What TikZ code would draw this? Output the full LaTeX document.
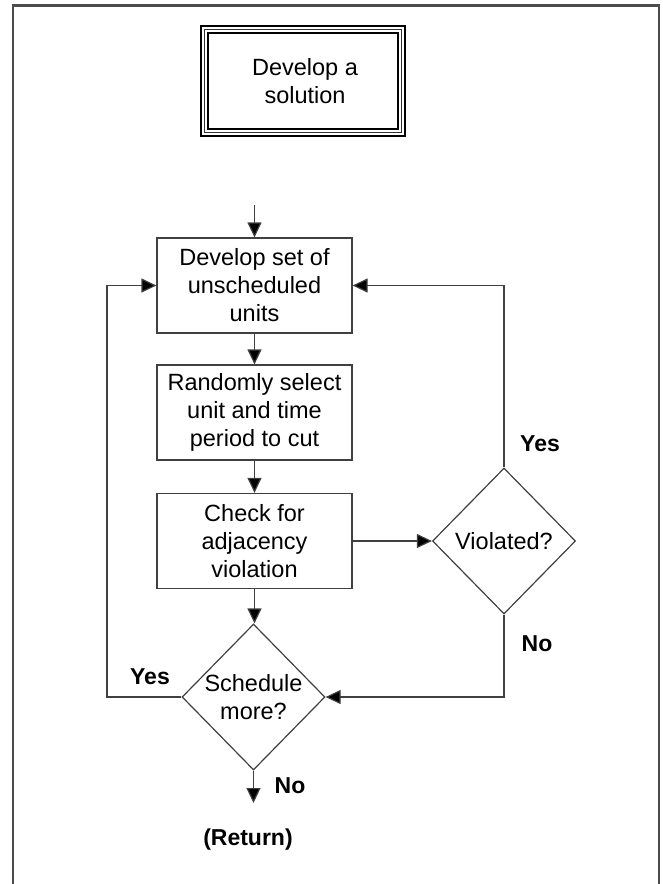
\documentclass[tikz,border=0pt]{standalone}
\usepackage{fontspec}
\setmainfont{Liberation Sans}
\usetikzlibrary{arrows.meta,shapes.geometric,positioning}
\begin{document}
\begin{tikzpicture}[x=1pt,y=-1pt,
  line/.style={draw=black!75,line width=1.2pt},
  arr/.style={line,-{Triangle[length=15pt,width=14pt,fill=black]}},
  procbox/.style={line,rectangle,minimum width=195pt,minimum height=95pt,
    inner sep=0pt,align=center,font=\fontsize{23.5}{28}\selectfont},
  decision/.style={line,diamond,minimum width=143pt,minimum height=146pt,inner sep=0pt},
  dtext/.style={align=center,font=\fontsize{23.5}{28}\selectfont},
  answer/.style={font=\fontsize{23}{27}\selectfont\bfseries},
  framebox/.style={draw=black!70,line width=2.5pt},
]
\useasboundingbox (0,0) rectangle (662,884);
\begin{scope}
  \clip (0,0) rectangle (662,884);
  \draw[framebox] (13,5.5) rectangle (659,900);
\end{scope}

% title box with a triple border
\node[rectangle,minimum width=206pt,minimum height=112pt,inner sep=0pt] (title) at (303,81) {};
\draw[black,line width=2.2pt] ([shift={(1,1)}]title.north west) rectangle ([shift={(-1,-1)}]title.south east);
\draw[black!80,line width=1.5pt] ([shift={(4.5,4.5)}]title.north west) rectangle ([shift={(-4.5,-4.5)}]title.south east);
\draw[black,line width=2pt] ([shift={(8,8)}]title.north west) rectangle ([shift={(-8,-8)}]title.south east);
\node[dtext] (titletext) at (305,81) {Develop a\\solution};

% process steps
\node[procbox] (b1) at (254.5,285.5) {Develop set of\\unscheduled\\units};
\node[procbox] (b2) at (254.5,412.5) {Randomly select\\unit and time\\period to cut};
\node[procbox] (b3) at (254.5,541) {Check for\\adjacency\\violation};

% decisions
\node[decision] (viol) at (504,541) {};
\node[dtext] (violtext) at (504,541) {Violated?};
\node[decision] (sched) at (253.5,697) {};
\node[dtext] (schedtext) at (253.5,697) {Schedule\\more?};

% free ends
\coordinate (entry) at (254.5,205);
\coordinate (exit) at (253.5,803);
\coordinate (loopL) at (107,697);

% connectors
\draw[arr] (entry) -- (b1.north);
\draw[arr] (b1) -- (b2);
\draw[arr] (b2) -- (b3);
\draw[arr] (b3.south) -- (b3.south |- sched.north);
\draw[arr] (b3.east) -- (viol.west);
\draw[arr] (viol.north) |- (b1.east);
\draw[arr] (viol.south) |- (sched.east);
\draw[arr] (sched.west) -- (loopL) |- (b1.west);
\draw[arr] (sched.south) -- (exit);

% answer labels
\node[answer] (yesV) at (540,444) {Yes};
\node[answer] (noV) at (537,644) {No};
\node[answer] (yesS) at (150,677) {Yes};
\node[answer] (noS) at (290,786) {No};
\node[answer] (ret) at (248,840) {(Return)};
\end{tikzpicture}
\end{document}
